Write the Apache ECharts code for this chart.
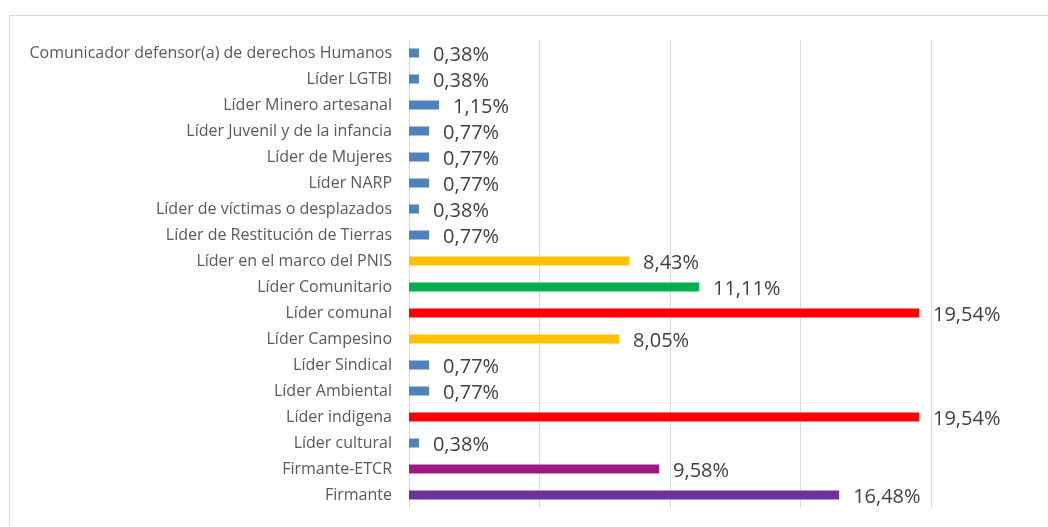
<!DOCTYPE html>
<html>
<head>
<meta charset="utf-8">
<script src="https://cdn.jsdelivr.net/npm/echarts@6/dist/echarts.min.js"></script>
<style>
    html, body { margin: 0; padding: 0; background: #fff; }
    #chart { width: 1048px; height: 527px; }
</style>
</head>
<body>
<div id="chart"></div>
<script>
// categorias (de abajo hacia arriba, como en el eje de Excel)
var categorias = [
    "Firmante",
    "Firmante-ETCR",
    "Líder cultural",
    "Líder indigena",
    "Líder Ambiental",
    "Líder Sindical",
    "Líder Campesino",
    "Líder comunal",
    "Líder Comunitario",
    "Líder en el marco del PNIS",
    "Líder de Restitución de Tierras",
    "Líder de víctimas o desplazados",
    "Líder NARP",
    "Líder de Mujeres",
    "Líder Juvenil y de la infancia",
    "Líder Minero artesanal",
    "Líder LGTBI",
    "Comunicador defensor(a) de derechos Humanos"
];
// porcentajes
var valores = [16.48, 9.58, 0.38, 19.54, 0.77, 0.77, 8.05, 19.54, 11.11, 8.43, 0.77, 0.38, 0.77, 0.77, 0.77, 1.15, 0.38, 0.38];
// color de cada barra
var colores = [
    "#7030A0", "#A0177F", "#4F81BD", "#FF0000", "#4F81BD", "#4F81BD",
    "#FFC000", "#FF0000", "#00B050", "#FFC000", "#4F81BD", "#4F81BD",
    "#4F81BD", "#4F81BD", "#4F81BD", "#4F81BD", "#4F81BD", "#4F81BD"
];

var myChart = echarts.init(document.getElementById("chart"));

var datos = [];
for (var i = 0; i < valores.length; i++) {
    datos.push({ value: valores[i], itemStyle: { color: colores[i] } });
}

var fuente = "'Open Sans', sans-serif";

myChart.setOption({
    animation: false,
    // marco del grafico (solo se ven los bordes superior e izquierdo)
    graphic: [{
        type: "rect",
        left: 7, top: 13,
        shape: { width: 1100, height: 600 },
        style: { fill: "none", stroke: "#D9D9D9", lineWidth: 1 }
    }],
    grid: { left: 409, right: 117, top: 40, bottom: 19, containLabel: false },
    xAxis: {
        type: "value",
        min: 0, max: 20, interval: 5,
        axisLabel: { show: false },
        axisLine: { show: false },
        axisTick: { show: false },
        splitLine: { lineStyle: { color: "#D9D9D9", width: 1 } }
    },
    yAxis: {
        type: "category",
        data: categorias,
        axisLine: { show: true, lineStyle: { color: "#D9D9D9" } },
        axisTick: { show: false },
        axisLabel: { color: "#595959", fontSize: 16, fontFamily: fuente, margin: 17 }
    },
    series: [{
        type: "bar",
        data: datos,
        barWidth: 9,
        label: {
            show: true,
            position: "right",
            distance: 14,
            offset: [0, 2],
            color: "#404040",
            fontSize: 20,
            fontFamily: fuente,
            formatter: function (p) {
                return p.value.toFixed(2).replace(".", ",") + "%";
            }
        }
    }]
});
</script>
</body>
</html>
